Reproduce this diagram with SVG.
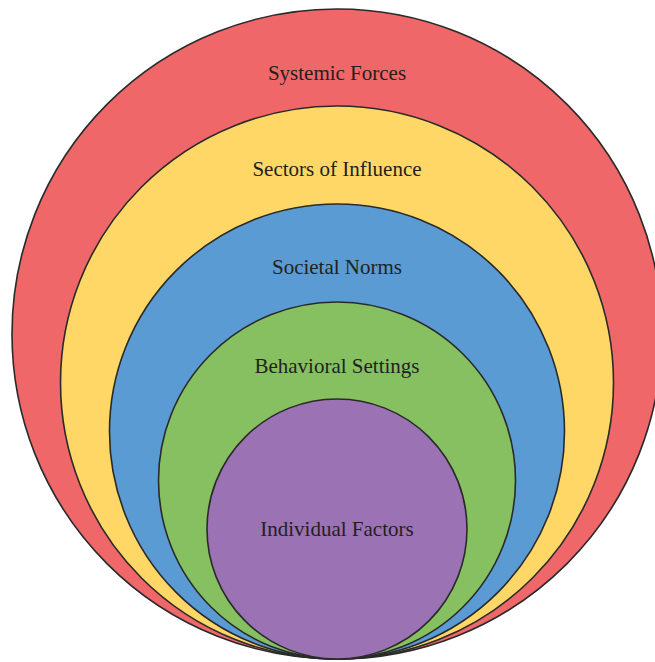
<svg xmlns="http://www.w3.org/2000/svg" width="655" height="662" viewBox="0 0 655 662">
  <style>
    .ring { stroke: #2a2a2a; stroke-width: 1.6; }
    .label { font-family: "Liberation Serif", "Times New Roman", serif; font-size: 21px; fill: #231f20; text-anchor: middle; }
  </style>
  <rect width="655" height="662" fill="#ffffff"/>
  <!-- Nested circles, all touching at the bottom point (337, 659) -->
  <g id="systemic-forces">
    <circle class="ring" cx="337" cy="334" r="325" fill="#f0676a"/>
    <text class="label" x="337" y="80">Systemic Forces</text>
  </g>
  <g id="sectors-of-influence">
    <circle class="ring" cx="337" cy="382.5" r="276.5" fill="#fed766"/>
    <text class="label" x="337" y="176">Sectors of Influence</text>
  </g>
  <g id="societal-norms">
    <circle class="ring" cx="337" cy="431.5" r="227.5" fill="#5a9bd4"/>
    <text class="label" x="337" y="274">Societal Norms</text>
  </g>
  <g id="behavioral-settings">
    <circle class="ring" cx="337" cy="480.5" r="178.5" fill="#86c060"/>
    <text class="label" x="337" y="373">Behavioral Settings</text>
  </g>
  <g id="individual-factors">
    <circle class="ring" cx="337" cy="529" r="130" fill="#9b72b3"/>
    <text class="label" x="337" y="536">Individual Factors</text>
  </g>
</svg>
